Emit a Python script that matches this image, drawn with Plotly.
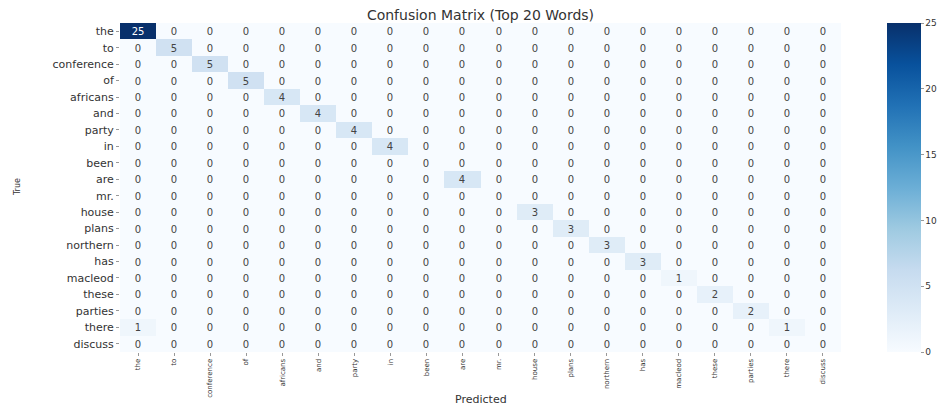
import numpy as np
import plotly.graph_objects as go

# Top 20 words (same order for true and predicted axes)
words = ["the", "to", "conference", "of", "africans", "and", "party", "in",
         "been", "are", "mr.", "house", "plans", "northern", "has", "macleod",
         "these", "parties", "there", "discuss"]

# Correct predictions per word (diagonal of the matrix)
diag_counts = [25, 5, 5, 5, 4, 4, 4, 4, 0, 4, 0, 3, 3, 3, 3, 1, 2, 2, 1, 0]

# Misclassifications: (true word, predicted word, count)
off_diag = [("there", "the", 1)]

n = len(words)
z = np.zeros((n, n), dtype=int)
for i, c in enumerate(diag_counts):
    z[i, i] = c
for t, p, c in off_diag:
    z[words.index(t), words.index(p)] = c

fig = go.Figure(
    go.Heatmap(
        z=z,
        x=words,
        y=words,
        colorscale="Blues",
        zmin=0,
        zmax=25,
        texttemplate="%{z}",
        textfont=dict(family="DejaVu Sans", size=10),
        colorbar=dict(
            x=1.064,
            xanchor="left",
            xpad=0,
            y=1,
            yanchor="top",
            ypad=0,
            len=1,
            lenmode="fraction",
            thickness=34,
            outlinewidth=0,
            tickvals=[0, 5, 10, 15, 20, 25],
            ticks="outside",
            ticklen=3,
            tickcolor="#999",
            tickfont=dict(family="DejaVu Sans", size=9, color="#333"),
        ),
        hovertemplate="True: %{y}<br>Predicted: %{x}<br>Count: %{z}<extra></extra>",
    )
)

fig.update_layout(
    width=945,
    height=407,
    margin=dict(l=120, r=104, t=23, b=55, autoexpand=False),
    paper_bgcolor="white",
    plot_bgcolor="white",
    title=dict(
        text="Confusion Matrix (Top 20 Words)",
        x=0.5,
        xanchor="center",
        xref="paper",
        y=0.975,
        yanchor="top",
        font=dict(family="DejaVu Sans", size=14, color="#333"),
    ),
    xaxis=dict(
        tickangle=-90,
        tickfont=dict(family="DejaVu Sans", size=7, color="#333"),
        ticks="outside",
        ticklen=3,
        tickcolor="#999",
        showgrid=False,
        zeroline=False,
        automargin=False,
    ),
    yaxis=dict(
        autorange="reversed",
        tickfont=dict(family="DejaVu Sans", size=11, color="#333"),
        ticks="outside",
        ticklen=3,
        tickcolor="#999",
        showgrid=False,
        zeroline=False,
        automargin=False,
    ),
    annotations=[
        dict(text="Predicted", xref="paper", yref="paper", x=0.5, y=-0.143,
             xanchor="center", yanchor="middle", showarrow=False,
             font=dict(family="DejaVu Sans", size=11, color="#333")),
        dict(text="True", xref="paper", yref="paper", x=-0.142, y=0.5,
             xanchor="center", yanchor="middle", textangle=-90, showarrow=False,
             font=dict(family="DejaVu Sans", size=8, color="#333")),
    ],
)

fig.write_html("out.html")
